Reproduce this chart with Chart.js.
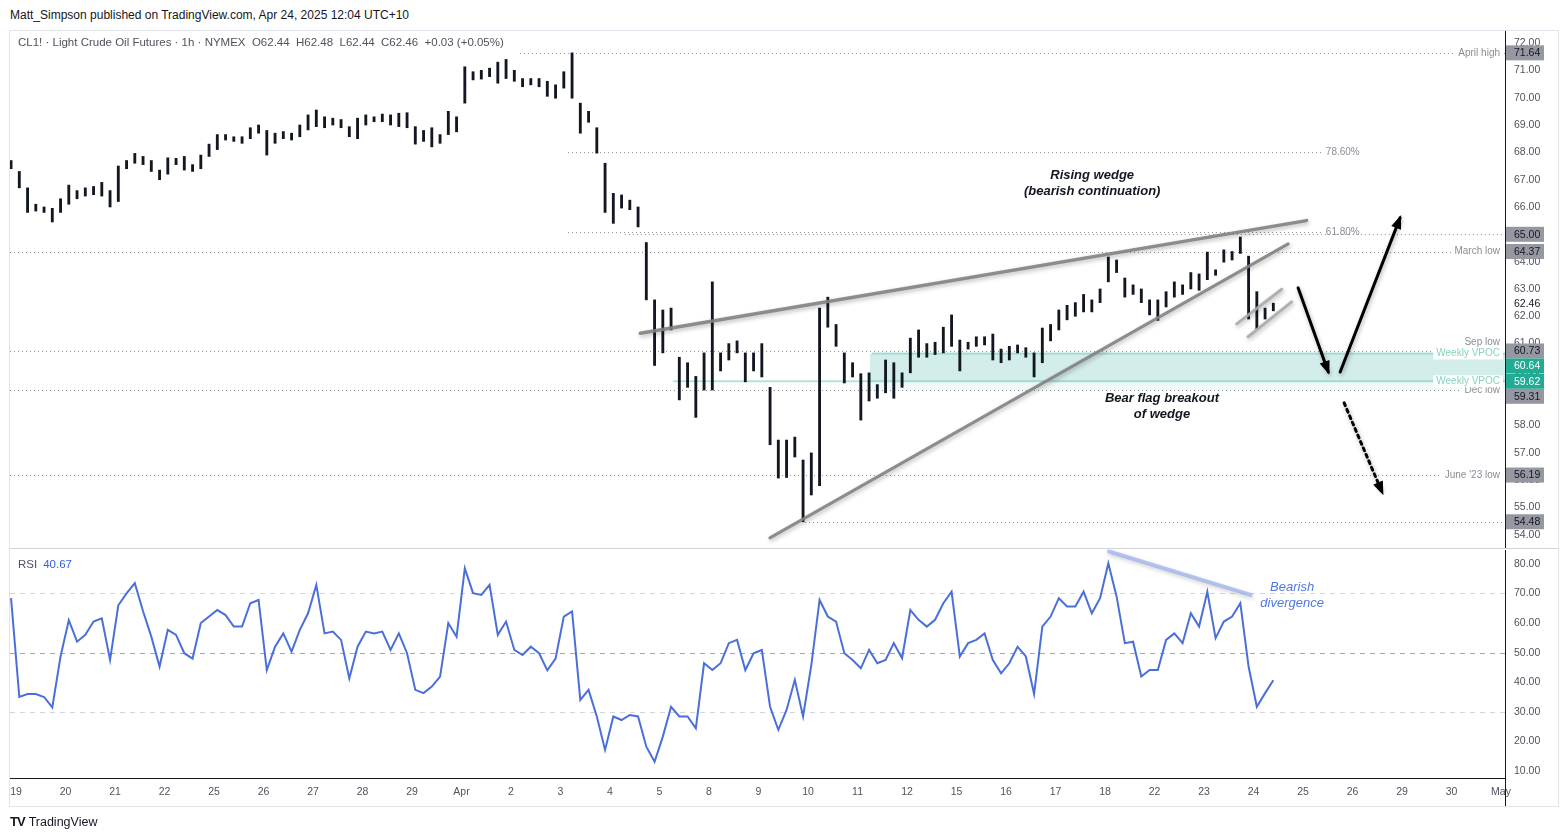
<!DOCTYPE html>
<html>
<head>
<meta charset="utf-8">
<script src="https://cdn.jsdelivr.net/npm/chart.js@4.4.0/dist/chart.umd.min.js"></script>
<style>
body{margin:0;background:#fff;width:1568px;height:839px;overflow:hidden;position:relative;font-family:'Liberation Sans',Arial,sans-serif}
#frame{position:absolute;left:9px;top:30px;width:1550px;height:777px;border:1px solid #e0e3eb;box-sizing:border-box}
#pub{position:absolute;left:10px;top:8px;font-size:12px;color:#131722}
#legend{position:absolute;left:18px;top:36px;font-size:11.5px;color:#50535e;white-space:pre}
#rsiLegend{position:absolute;left:18px;top:558px;font-size:11.5px;color:#50535e}
#rsiLegend span{color:#2f5fe0;margin-left:6px}
#cPrice{position:absolute;left:0;top:0}
#cRsi{position:absolute;left:0;top:549px}
#sep{position:absolute;left:10px;top:548px;width:1548px;height:1px;background:#d1d4dc}
#axisTail{position:absolute;left:1505px;top:778px;width:1px;height:28px;background:#131722}
#logo{position:absolute;left:10px;top:814px;font-size:12.5px;color:#131722}
#logo b{font-size:13px;font-weight:900;letter-spacing:-1px;margin-right:4px}
</style>
</head>
<body>
<div id="frame"></div>
<div id="pub">Matt_Simpson published on TradingView.com, Apr 24, 2025 12:04 UTC+10</div>
<canvas id="cPrice" width="1568" height="549"></canvas>
<canvas id="cRsi" width="1568" height="290"></canvas>
<div id="sep"></div>
<div id="axisTail"></div>
<div id="legend">CL1! · Light Crude Oil Futures · 1h · NYMEX  O62.44  H62.48  L62.44  C62.46  +0.03 (+0.05%)</div>
<div id="rsiLegend">RSI<span>40.67</span></div>
<div id="logo"><b>TV</b>TradingView</div>
<script>
// day labels on the time axis (one per session)
const dayLabels = ['19','20','21','22','25','26','27','28','29','Apr','2','3','4','5','8','9','10','11','12','15','16','17','18','22','23','24','25','26','29','30','May'];

// price bars, 4h buckets
const barsPerDay = 6;
const firstBarDay = -0.1;
const barHigh = [67.7,67.3,66.7,66.1,66.0,65.95,66.3,66.8,66.6,66.7,66.75,66.9,66.6,67.5,67.7,67.96,67.85,67.7,67.35,67.8,
  67.78,67.85,67.55,67.9,68.3,68.65,68.65,68.57,68.57,68.9,69.0,68.8,68.7,68.76,68.7,69.0,69.37,69.55,69.3,69.25,
  69.2,68.94,69.25,69.37,69.3,69.4,69.37,69.43,69.45,68.94,68.8,68.9,68.65,69.5,69.3,71.13,70.95,71.0,71.08,71.3,
  71.4,71.0,70.7,70.7,70.7,70.6,70.47,70.95,71.64,69.8,69.5,68.9,67.6,66.5,66.44,66.25,66.0,64.7,62.6,62.23,
  62.3,60.5,60.3,59.8,60.66,63.26,60.66,61.0,61.1,60.66,60.66,61.0,59.4,57.47,57.47,57.58,56.74,57.0,62.3,62.7,
  61.7,60.66,60.3,59.9,59.93,59.5,60.4,60.3,59.93,61.2,61.5,61.0,61.05,61.6,62.05,61.13,61.05,61.25,61.25,61.35,
  60.8,60.9,60.95,60.85,60.66,61.57,61.7,62.23,62.4,62.5,62.8,62.6,63.0,64.17,64.06,63.4,63.15,63.0,62.6,62.6,
  62.9,63.26,63.15,63.6,63.55,64.35,63.7,64.43,64.37,64.9,64.2,62.9,62.3,62.48];
const barLow = [67.4,66.7,65.8,65.85,65.8,65.45,65.8,66.1,66.3,66.4,66.45,66.4,66.0,66.2,67.4,67.6,67.55,67.3,67.0,67.2,
  67.55,67.35,67.3,67.4,67.85,68.1,68.45,68.4,68.33,68.5,68.7,67.9,68.33,68.5,68.45,68.57,68.82,68.94,68.9,69.0,
  68.9,68.57,68.5,69.0,69.12,69.12,69.0,68.94,68.9,68.3,68.4,68.2,68.33,68.65,68.75,69.8,70.65,70.68,70.77,70.53,
  70.7,70.6,70.4,70.47,70.4,70.05,69.98,70.35,69.98,68.7,69.1,67.97,65.8,65.4,65.96,65.9,65.27,62.6,60.2,60.66,
  61.5,58.94,59.4,58.3,59.3,59.3,60.0,60.4,60.66,59.6,60.0,59.78,57.3,56.08,56.1,56.85,54.48,55.46,55.8,61.6,
  60.9,59.56,59.78,58.2,58.9,59.0,59.2,59.0,59.4,59.93,60.5,60.5,60.6,60.66,60.9,60.0,60.8,60.9,60.95,60.4,
  60.3,60.4,60.66,60.5,59.78,60.3,61.1,61.5,61.87,62.0,62.16,62.16,62.5,63.26,63.6,62.7,62.8,62.5,62.05,61.85,
  62.34,62.7,62.8,63.0,62.95,63.34,63.5,63.98,64.06,64.3,61.9,61.55,61.9,62.2];
const rsiValues = [68.4,35,36,36,35,31.5,48.7,61,53.7,56,60.5,61.6,47.5,66,70,73.5,64,55.4,45.3,57.7,
  56,49.8,48,60,62.2,64.4,62.7,58.8,58.8,66.7,67.8,44.1,52,56.5,50.3,57.7,63.3,72.9,56.5,57.1,
  54.3,41.3,52,57.1,56.5,57.1,50.9,56.5,49.8,37.4,36.3,38.5,41.9,60,55.4,78.5,70.1,69.5,72.9,56,
  60.5,50.9,49.2,52,49.8,44,48,62.2,63.9,34,37.4,28.4,17.1,28.4,27.2,28.9,28.4,18.2,13.1,21.6,
  31.7,28.4,28.4,24.4,46.4,44.1,46.4,53.2,54.3,44.1,49.8,50.9,31.7,23.9,30.6,40.8,28.4,45.8,67.8,62.2,
  60.5,49.8,47.5,44.7,50.9,46.4,47.5,53.2,48.1,64.4,61.1,58.8,61.1,66.7,70.6,48.7,53.2,54.3,56.5,47.5,
  43,46.4,52,48.7,36,58.8,62.2,68.4,65.6,65.6,70.6,63.3,68.4,80.2,69,53.2,53.7,41.9,44.1,44.1,
  54.3,56.5,53.2,63.3,58.8,70.6,54.9,60.5,62.2,66.7,45.3,31.7,36.3,40.67];

// horizontal levels drawn on the price pane
const levelValues = [71.64, 68.0, 65.07, 65.0, 64.37, 60.73, 59.31, 56.19, 54.48];
const levelNames = ['April high', '78.60%', '61.80%', '', 'March low', 'Sep low', 'Dec low', "June '23 low", ''];
const levelFrom = [10.18, 11.15, 11.15, 12.3, -0.12, -0.12, -0.12, -0.12, 15.94];
const levelTo = [null, 26.38, 26.38, null, null, null, null, null, null];
const vpocValues = [60.64, 59.62];
const vpocFrom = [17.29, 13.27];
const zoneFrom = 17.25;
const greyTags = [71.64, 65.00, 64.37, 60.73, 59.31, 56.19, 54.48];
const tealTags = [60.64, 59.62];
const lastPrice = 62.46;

// drawings (day, price)
const wedgeUpper = [[12.61, 61.38], [26.07, 65.5]];
const wedgeLower = [[15.23, 53.89], [25.70, 64.65]];
const flagUpper = [[24.66, 61.72], [25.57, 62.99]];
const flagLower = [[24.89, 61.25], [25.77, 62.53]];
const arrowFrom = [[25.90, 63.04], [26.75, 59.96], [26.83, 58.83]];
const arrowTo = [[26.51, 59.96], [27.96, 65.6], [27.6, 55.55]];
const divergence = [[22.08, 84.2], [24.94, 69.5]];
const rsiLevels = [70, 50, 30];

const xMin = -0.1212, xMax = 30.08;
const FONT = "'Liberation Sans', Arial, sans-serif";
Chart.defaults.font.family = FONT;
Chart.defaults.font.size = 10.5;
Chart.defaults.color = '#131722';

const barX = i => firstBarDay + i / barsPerDay;
const bars = barHigh.map((h, i) => ({x: barX(i), y: [barLow[i], h]}));
const rsiPts = rsiValues.map((v, i) => ({x: barX(i), y: v}));

// keep the plot area exactly where the layout padding puts it
function noScalePad(s) {
  s.paddingTop = 0; s.paddingBottom = 0; s.paddingLeft = 0; s.paddingRight = 0;
}

function seg(ctx, x, y, p, opts) {
  ctx.save();
  ctx.strokeStyle = opts.color;
  ctx.lineWidth = opts.width;
  ctx.lineCap = 'round';
  if (opts.shadow) {
    ctx.shadowColor = 'rgba(0,0,0,0.3)';
    ctx.shadowBlur = 4;
    ctx.shadowOffsetX = 1;
    ctx.shadowOffsetY = 2;
  }
  if (opts.dash) ctx.setLineDash(opts.dash);
  ctx.beginPath();
  ctx.moveTo(x.getPixelForValue(p[0][0]), y.getPixelForValue(p[0][1]));
  ctx.lineTo(x.getPixelForValue(p[1][0]), y.getPixelForValue(p[1][1]));
  ctx.stroke();
  ctx.restore();
}

function arrowHead(ctx, x, y, from, to) {
  const x0 = x.getPixelForValue(from[0]), y0 = y.getPixelForValue(from[1]);
  const x1 = x.getPixelForValue(to[0]), y1 = y.getPixelForValue(to[1]);
  const ang = Math.atan2(y1 - y0, x1 - x0);
  ctx.save();
  ctx.fillStyle = '#000';
  ctx.beginPath();
  ctx.moveTo(x1 + Math.cos(ang) * 3, y1 + Math.sin(ang) * 3);
  ctx.lineTo(x1 - Math.cos(ang - 0.45) * 12, y1 - Math.sin(ang - 0.45) * 12);
  ctx.lineTo(x1 - Math.cos(ang + 0.45) * 12, y1 - Math.sin(ang + 0.45) * 12);
  ctx.closePath();
  ctx.fill();
  ctx.restore();
}

function levelLabel(ctx, text, xr, yc, color, bg) {
  ctx.font = '10px ' + FONT;
  const w = ctx.measureText(text).width;
  if (bg) {
    ctx.fillStyle = '#fff';
    ctx.fillRect(xr - w - 3, yc - 6, w + 6, 12);
  }
  ctx.fillStyle = color;
  ctx.textAlign = 'right';
  ctx.textBaseline = 'middle';
  ctx.fillText(text, xr, yc);
}

const priceOverlay = {
  id: 'priceOverlay',
  beforeDatasetsDraw(chart) {
    const {ctx, chartArea: a, scales: {x, y}} = chart;
    ctx.save();
    // value area zone
    const zx = x.getPixelForValue(zoneFrom);
    const zt = y.getPixelForValue(vpocValues[0]), zm = y.getPixelForValue(vpocValues[1]);
    const zb = y.getPixelForValue(levelValues[6]);
    ctx.fillStyle = 'rgba(34,171,148,0.2)';
    ctx.fillRect(zx, zt, a.right - zx, zm - zt);
    ctx.fillStyle = 'rgba(34,171,148,0.07)';
    ctx.fillRect(zx, zm, a.right - zx, zb - zm);
    // dotted levels
    ctx.strokeStyle = '#8a8d96';
    ctx.lineWidth = 1;
    ctx.setLineDash([1, 3]);
    levelValues.forEach((v, k) => {
      const py = Math.round(y.getPixelForValue(v)) + 0.5;
      const x0 = x.getPixelForValue(levelFrom[k]);
      const x1 = levelTo[k] == null ? a.right : x.getPixelForValue(levelTo[k]);
      ctx.beginPath(); ctx.moveTo(x0, py); ctx.lineTo(x1, py); ctx.stroke();
    });
    ctx.setLineDash([]);
    ctx.strokeStyle = 'rgba(34,171,148,0.35)';
    ctx.lineWidth = 2;
    vpocValues.forEach((v, k) => {
      const py = y.getPixelForValue(v);
      ctx.beginPath(); ctx.moveTo(x.getPixelForValue(vpocFrom[k]), py); ctx.lineTo(a.right, py); ctx.stroke();
    });
    ctx.restore();
  },
  afterDatasetsDraw(chart) {
    const {ctx, chartArea: a, scales: {x, y}} = chart;
    // wedge and flag
    seg(ctx, x, y, wedgeUpper, {color: 'rgba(130,130,130,0.9)', width: 3.5, shadow: true});
    seg(ctx, x, y, wedgeLower, {color: 'rgba(130,130,130,0.9)', width: 3, shadow: true});
    seg(ctx, x, y, flagUpper, {color: 'rgba(170,170,170,0.9)', width: 3, shadow: true});
    seg(ctx, x, y, flagLower, {color: 'rgba(170,170,170,0.9)', width: 3, shadow: true});
    // arrows
    arrowFrom.forEach((f, k) => {
      seg(ctx, x, y, [f, arrowTo[k]], {color: '#000', width: 3, shadow: true, dash: k === 2 ? [3, 4] : null});
      arrowHead(ctx, x, y, f, arrowTo[k]);
    });
    // level labels
    ctx.save();
    levelValues.forEach((v, k) => {
      if (!levelNames[k]) return;
      const py = y.getPixelForValue(v);
      if (levelTo[k] != null) {
        ctx.font = '10px ' + FONT;
        ctx.fillStyle = '#8a8d96';
        ctx.textAlign = 'left';
        ctx.textBaseline = 'middle';
        ctx.fillText(levelNames[k], x.getPixelForValue(levelTo[k]) + 4, py);
      } else if (levelNames[k] === 'Sep low') {
        levelLabel(ctx, levelNames[k], a.right - 5, py - 9, '#8a8d96', false);
      } else {
        levelLabel(ctx, levelNames[k], a.right - 5, py, '#8a8d96', true);
      }
    });
    vpocValues.forEach(v => levelLabel(ctx, 'Weekly VPOC', a.right - 5, y.getPixelForValue(v), '#86d3bf', true));
    // text notes
    ctx.fillStyle = '#131722';
    ctx.font = 'italic bold 13px ' + FONT;
    ctx.textAlign = 'center';
    ctx.textBaseline = 'middle';
    ctx.fillText('Rising wedge', x.getPixelForValue(21.74), y.getPixelForValue(67.17));
    ctx.fillText('(bearish continuation)', x.getPixelForValue(21.74), y.getPixelForValue(66.58));
    ctx.fillText('Bear flag breakout', x.getPixelForValue(23.15), y.getPixelForValue(59.01));
    ctx.fillText('of wedge', x.getPixelForValue(23.15), y.getPixelForValue(58.42));
    ctx.restore();
  },
  afterDraw(chart) {
    const {ctx, chartArea: a, scales: {y}} = chart;
    ctx.save();
    ctx.font = '10.5px ' + FONT;
    ctx.textAlign = 'left';
    ctx.textBaseline = 'middle';
    ctx.fillStyle = '#131722';
    ctx.fillText(lastPrice.toFixed(2), a.right + 9, y.getPixelForValue(lastPrice));
    const tags = greyTags.map(v => ({v, teal: false})).concat(tealTags.map(v => ({v, teal: true})))
      .map(t => ({...t, py: y.getPixelForValue(t.v)})).sort((p, q) => p.py - q.py);
    let prev = -100;
    tags.forEach(t => {
      if (t.py < prev + 15) t.py = prev + 15;
      prev = t.py;
      ctx.fillStyle = t.teal ? '#22ab94' : '#9598a1';
      ctx.fillRect(a.right + 1, t.py - 7.5, 38, 15);
      ctx.fillStyle = t.teal ? '#fff' : '#131722';
      ctx.fillText(t.v.toFixed(2), a.right + 9, t.py + 0.5);
    });
    ctx.restore();
  }
};

new Chart(document.getElementById('cPrice'), {
  type: 'bar',
  data: {datasets: [{data: bars, backgroundColor: '#131722', barThickness: 2.2, grouped: false}]},
  options: {
    responsive: false,
    animation: false,
    layout: {padding: {left: 10, right: 10, top: 31, bottom: 1}},
    plugins: {legend: {display: false}, tooltip: {enabled: false}},
    scales: {
      x: {type: 'linear', min: xMin, max: xMax, offset: false, display: false},
      y: {
        position: 'right', min: 53.52, max: 72.44,
        afterFit: s => { s.width = 53; noScalePad(s); },
        afterBuildTicks: s => { s.ticks = []; for (let v = 54; v <= 72; v++) s.ticks.push({value: v}); },
        grid: {display: false, drawTicks: false},
        border: {display: true, color: '#131722'},
        ticks: {padding: 9, color: '#50535e', callback: v => v.toFixed(2)}
      }
    }
  },
  plugins: [priceOverlay]
});

const rsiOverlay = {
  id: 'rsiOverlay',
  beforeDatasetsDraw(chart) {
    const {ctx, chartArea: a, scales: {y}} = chart;
    ctx.save();
    ctx.lineWidth = 1;
    ctx.setLineDash([5, 5]);
    rsiLevels.forEach(v => {
      ctx.strokeStyle = v === 50 ? '#a3a6af' : '#d1d4dc';
      const py = Math.round(y.getPixelForValue(v)) + 0.5;
      ctx.beginPath(); ctx.moveTo(a.left, py); ctx.lineTo(a.right, py); ctx.stroke();
    });
    ctx.restore();
  },
  afterDatasetsDraw(chart) {
    const {ctx, scales: {x, y}} = chart;
    seg(ctx, x, y, divergence, {color: 'rgba(140,165,235,0.6)', width: 4, shadow: true});
    ctx.save();
    ctx.fillStyle = '#4f78e0';
    ctx.font = 'italic 13px ' + FONT;
    ctx.textAlign = 'center';
    ctx.textBaseline = 'middle';
    ctx.fillText('Bearish', x.getPixelForValue(25.78), y.getPixelForValue(72.2));
    ctx.fillText('divergence', x.getPixelForValue(25.78), y.getPixelForValue(66.8));
    ctx.restore();
  }
};

new Chart(document.getElementById('cRsi'), {
  type: 'line',
  data: {datasets: [{data: rsiPts, borderColor: '#4a6fd9', borderWidth: 2, pointRadius: 0, tension: 0}]},
  options: {
    responsive: false,
    animation: false,
    layout: {padding: {left: 10, right: 10, top: 1, bottom: 34}},
    plugins: {legend: {display: false}, tooltip: {enabled: false}},
    scales: {
      x: {
        type: 'linear', min: xMin, max: xMax,
        afterFit: s => { s.height = 27; noScalePad(s); },
        afterBuildTicks: s => { s.ticks = dayLabels.map((_, d) => ({value: d})); },
        grid: {display: false, drawTicks: false},
        border: {display: true, color: '#131722'},
        ticks: {autoSkip: false, maxRotation: 0, padding: 8, color: '#50535e', callback: v => dayLabels[v]}
      },
      y: {
        position: 'right', min: 7.6, max: 84.7,
        afterFit: s => { s.width = 53; noScalePad(s); },
        afterBuildTicks: s => { s.ticks = []; for (let v = 10; v <= 80; v += 10) s.ticks.push({value: v}); },
        grid: {display: false, drawTicks: false},
        border: {display: true, color: '#131722'},
        ticks: {padding: 9, color: '#50535e', callback: v => v.toFixed(2)}
      }
    }
  },
  plugins: [rsiOverlay]
});
</script>
</body>
</html>
